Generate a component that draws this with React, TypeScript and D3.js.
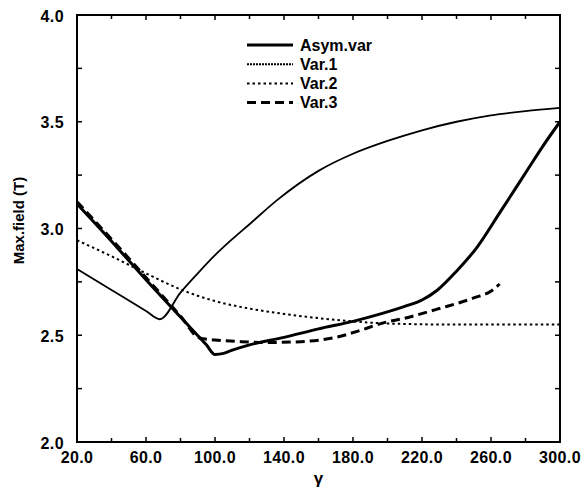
import React from "react";
import * as d3 from "d3";

const gammaAsym = [20, 40, 60, 80, 95, 100, 105, 110, 120, 140, 160, 180, 196, 210, 220, 229, 240, 252, 265, 280, 290, 300];
const asymVar = [3.115, 2.94, 2.76, 2.585, 2.455, 2.41, 2.415, 2.43, 2.455, 2.49, 2.53, 2.565, 2.6, 2.635, 2.665, 2.712, 2.8, 2.913, 3.073, 3.26, 3.385, 3.5];

const gammaVar1 = [20, 40, 60, 68, 80, 90, 100, 110, 120, 136, 160, 180, 200, 220, 240, 260, 280, 300];
const var1 = [2.81, 2.712, 2.614, 2.575, 2.7, 2.79, 2.875, 2.95, 3.02, 3.133, 3.27, 3.35, 3.41, 3.46, 3.5, 3.53, 3.55, 3.565];

const gammaVar2 = [20, 40, 60, 80, 100, 120, 140, 160, 180, 200, 240, 300];
const var2 = [2.945, 2.87, 2.79, 2.715, 2.66, 2.625, 2.6, 2.58, 2.565, 2.555, 2.55, 2.55];

const gammaVar3 = [20, 40, 60, 80, 91, 100, 115, 130, 150, 170, 185, 197, 210, 230, 250, 261, 265];
const var3 = [3.125, 2.95, 2.77, 2.59, 2.487, 2.478, 2.47, 2.466, 2.47, 2.49, 2.525, 2.557, 2.58, 2.625, 2.675, 2.712, 2.74];

const xTickLabels = ["20.0", "60.0", "100.0", "140.0", "180.0", "220.0", "260.0", "300.0"];
const yTickLabels = ["2.0", "2.5", "3.0", "3.5", "4.0"];
const legendNames = ["Asym.var", "Var.1", "Var.2", "Var.3"];

const W = 582;
const H = 493;
const L = 77, R = 560, T = 15, B = 442;

export default function App() {
  const x = d3.scaleLinear().domain([20, 300]).range([L, R]);
  const y = d3.scaleLinear().domain([2, 4]).range([B, T]);
  const mk = (xs: number[], ys: number[]) =>
    d3.line<number>().x((_, i) => x(xs[i])).y((v) => y(v)).curve(d3.curveMonotoneX)(ys) || "";

  const series = [
    { d: mk(gammaAsym, asymVar), w: 3, dash: "" },
    { d: mk(gammaVar1, var1), w: 1.8, dash: "" },
    { d: mk(gammaVar2, var2), w: 2, dash: "2.5,3" },
    { d: mk(gammaVar3, var3), w: 3, dash: "9,5" },
  ];
  const legendDash = ["", "2,1", "2.5,3", "9,5"];

  const xTicks = d3.range(20, 301, 20);
  const yTicks = d3.range(2, 4.001, 0.25);
  const font = "'Liberation Sans', Arial, Helvetica, sans-serif";

  return (
    <svg width={W} height={H} style={{ position: "absolute", left: 0, top: 0, background: "#fff" }}
      fontFamily={font}>
      <rect x={0} y={0} width={W} height={H} fill="#fff" />
      {series.map((s, i) => (
        <path key={i} d={s.d} fill="none" stroke="#000" strokeWidth={s.w}
          strokeDasharray={s.dash || undefined} strokeLinejoin="round" />
      ))}
      <rect x={L} y={T} width={R - L} height={B - T} fill="none" stroke="#000" strokeWidth={2} />
      {xTicks.map((t, i) => (
        <g key={"xt" + t}>
          <line x1={x(t)} x2={x(t)} y1={B} y2={B - (i % 2 === 0 ? 5 : 4)} stroke="#000" strokeWidth={1.5} />
          <line x1={x(t)} x2={x(t)} y1={T} y2={T + (i % 2 === 0 ? 5 : 4)} stroke="#000" strokeWidth={1.5} />
        </g>
      ))}
      {yTicks.map((t) => (
        <g key={"yt" + t}>
          <line x1={L} x2={L + 5} y1={y(t)} y2={y(t)} stroke="#000" strokeWidth={1.5} />
          <line x1={R} x2={R - 5} y1={y(t)} y2={y(t)} stroke="#000" strokeWidth={1.5} />
        </g>
      ))}
      {xTickLabels.map((lab) => (
        <text key={lab} x={x(+lab)} y={463} textAnchor="middle" fontSize={16} fontWeight="bold"
          letterSpacing={0.4}>{lab}</text>
      ))}
      {yTickLabels.map((lab) => (
        <text key={lab} x={64} y={y(+lab) + 1} dy="0.35em" textAnchor="end" fontSize={16} fontWeight="bold"
          letterSpacing={0.4}>{lab}</text>
      ))}
      <text transform={`translate(24,${(T + B) / 2 - 8}) rotate(-90)`} textAnchor="middle" fontSize={15}
        fontWeight="bold">Max.field (T)</text>
      <text x={(L + R) / 2} y={484} textAnchor="middle" fontSize={17} fontWeight="bold">γ</text>
      {legendNames.map((n, i) => {
        const ly = 45 + i * 19.2;
        return (
          <g key={n}>
            <line x1={247} x2={293} y1={ly} y2={ly} stroke="#000" strokeWidth={i === 0 || i === 3 ? 3 : 2}
              strokeDasharray={legendDash[i] || undefined} />
            <text x={300} y={ly} dy="0.36em" fontSize={16} fontWeight="bold">{n}</text>
          </g>
        );
      })}
    </svg>
  );
}
